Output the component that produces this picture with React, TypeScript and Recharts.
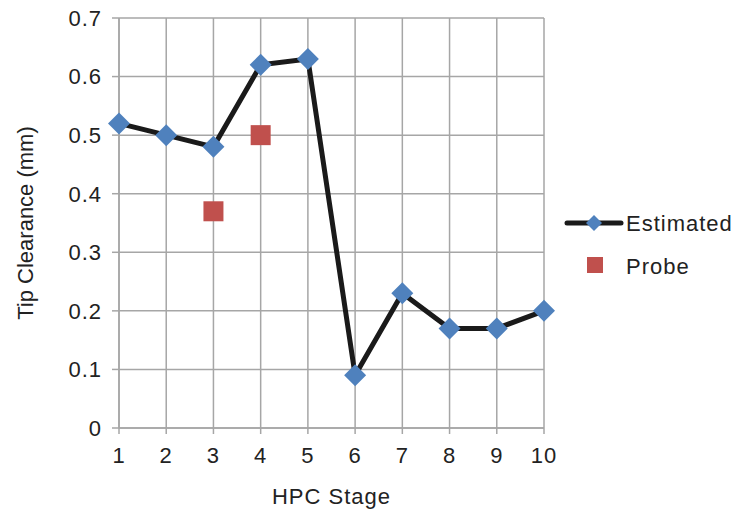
import {
  CartesianGrid,
  ComposedChart,
  Label,
  Line,
  Scatter,
  XAxis,
  YAxis,
} from 'recharts';

const stages = [1, 2, 3, 4, 5, 6, 7, 8, 9, 10];
const estimated = [0.52, 0.5, 0.48, 0.62, 0.63, 0.09, 0.23, 0.17, 0.17, 0.2];
const probeStages = [3, 4];
const probeValues = [0.37, 0.5];
const yTicks = [0, 0.1, 0.2, 0.3, 0.4, 0.5, 0.6, 0.7];

const BLUE = '#4f81bd';
const RED = '#c0504d';
const GRID = '#a6a6a6';
const FONT = 'Liberation Sans, Arial, sans-serif';
const TEXT = { fill: '#222', fontSize: 22, fontFamily: FONT, letterSpacing: 1 };

const estimatedData = stages.map((s, i) => ({ stage: s, value: estimated[i] }));
const probeData = probeStages.map((s, i) => ({ stage: s, value: probeValues[i] }));

const Diamond = (props: any) => {
  const { cx, cy } = props;
  if (cx == null || cy == null) return null;
  const r = 11;
  return (
    <polygon
      points={`${cx},${cy - r} ${cx + r},${cy} ${cx},${cy + r} ${cx - r},${cy}`}
      fill={BLUE}
    />
  );
};

const Square = (props: any) => {
  const { cx, cy } = props;
  if (cx == null || cy == null) return null;
  return <rect x={cx - 10} y={cy - 10} width={20} height={20} fill={RED} />;
};

// legend drawn beside the plot so it doesn't eat into the plot width
const LegendBox = () => (
  <svg width={180} height={80} style={{ position: 'absolute', left: 559, top: 203, overflow: 'visible' }}>
    <line x1={8} y1={20} x2={62} y2={20} stroke="#1a1a1a" strokeWidth={5} strokeLinecap="round" />
    <polygon points="35,12 43,20 35,28 27,20" fill={BLUE} />
    <text x={67} y={28} {...TEXT}>Estimated</text>
    <rect x={28} y={54} width={16} height={16} fill={RED} />
    <text x={67} y={71} {...TEXT}>Probe</text>
  </svg>
);

export default function App() {
  return (
    <div style={{ position: 'absolute', left: 0, top: 0, width: 734, height: 510 }}>
      <ComposedChart
        width={734}
        height={510}
        margin={{ top: 18, right: 190, bottom: 0, left: 0 }}
      >
        <CartesianGrid stroke={GRID} strokeWidth={1.5} />
        <XAxis
          type="number"
          dataKey="stage"
          domain={[1, 10]}
          ticks={stages}
          interval={0}
          height={82}
          tickSize={6}
          tickMargin={13}
          stroke={GRID}
          strokeWidth={1.5}
          tick={TEXT}
        >
          <Label value="HPC Stage" position="insideBottom" offset={6} style={TEXT} />
        </XAxis>
        <YAxis
          type="number"
          domain={[0, 0.7]}
          ticks={yTicks}
          interval={0}
          width={119}
          tickSize={7}
          tickMargin={10}
          stroke={GRID}
          strokeWidth={1.5}
          tick={TEXT}
          tickFormatter={(v: number) => (v === 0 ? '0' : String(Number(v.toFixed(1))))}
        >
          <Label
            value="Tip Clearance (mm)"
            angle={-90}
            position="insideLeft"
            offset={25}
            style={{ fill: '#222', fontSize: 22, fontFamily: FONT, textAnchor: 'middle' }}
          />
        </YAxis>
        <Line
          data={estimatedData}
          dataKey="value"
          name="Estimated"
          stroke="#1a1a1a"
          strokeWidth={5}
          dot={<Diamond />}
          activeDot={false}
          isAnimationActive={false}
        />
        <Scatter
          data={probeData}
          dataKey="value"
          name="Probe"
          shape={<Square />}
          isAnimationActive={false}
        />
      </ComposedChart>
      <LegendBox />
    </div>
  );
}
